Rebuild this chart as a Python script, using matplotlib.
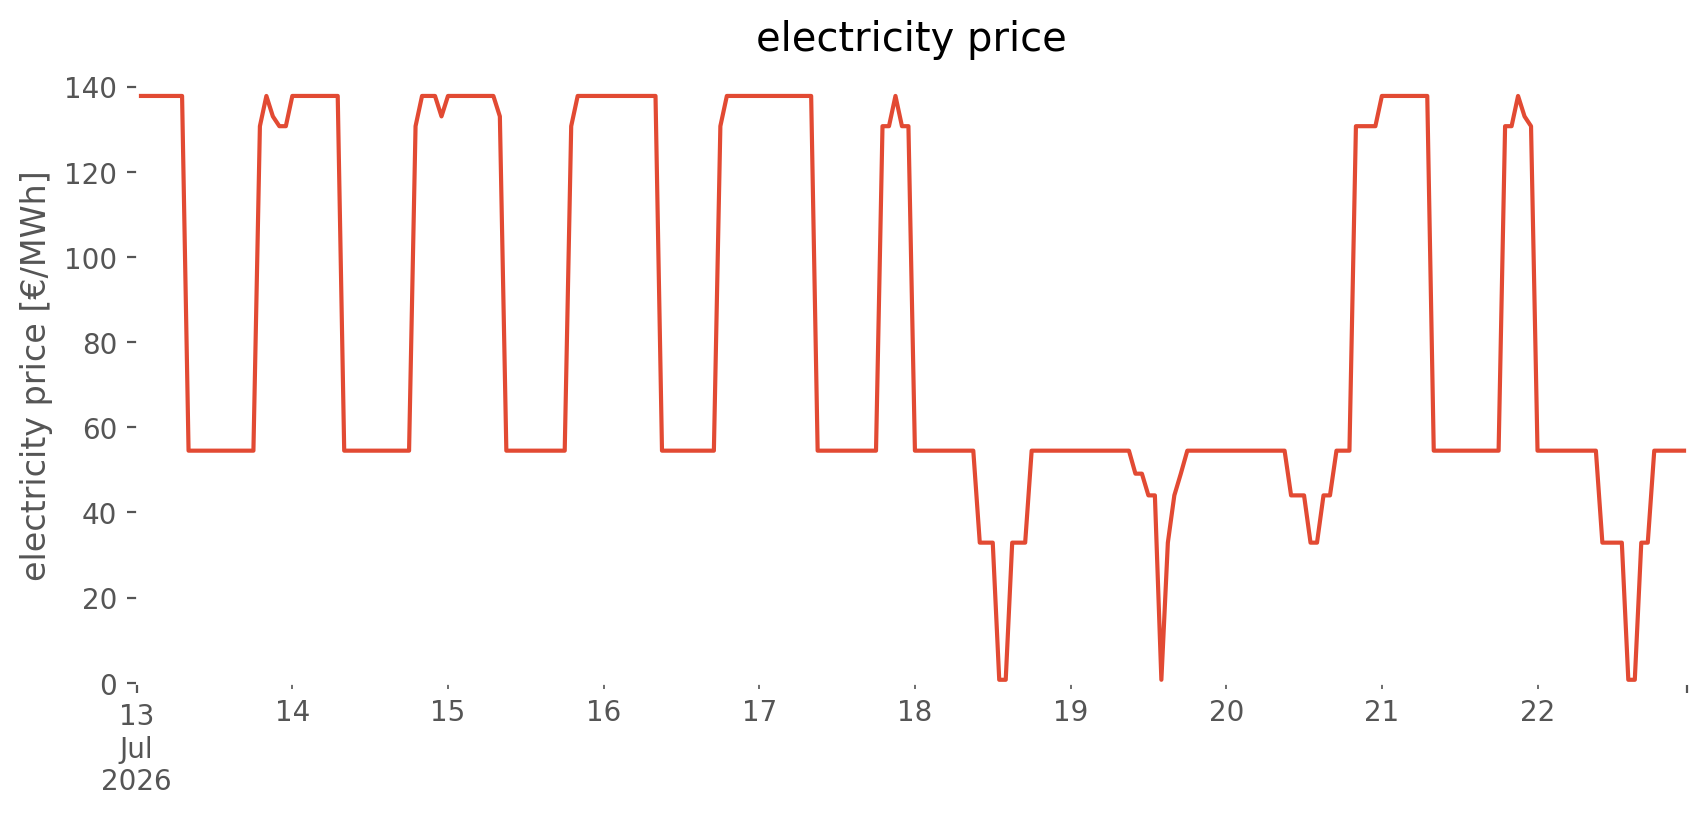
import numpy as np
import pandas as pd
import matplotlib
matplotlib.use("Agg")
import matplotlib.pyplot as plt

# hourly electricity price, one list per day
day_13 = [137.8] * 8 + [54.5] * 11 + [130.7, 137.8, 133.0, 130.7, 130.7]
day_14 = [137.8] * 8 + [54.5] * 11 + [130.7, 137.8, 137.8, 137.8, 133.0]
day_15 = [137.8] * 8 + [133.0] + [54.5] * 10 + [130.7] + [137.8] * 4
day_16 = [137.8] * 9 + [54.5] * 9 + [130.7] + [137.8] * 5
day_17 = [137.8] * 9 + [54.5] * 10 + [130.7, 130.7, 137.8, 130.7, 130.7]
day_18 = [54.5] * 10 + [32.9] * 3 + [0.7] * 2 + [32.9] * 3 + [54.5] * 6
day_19 = [54.5] * 10 + [49.1, 49.1, 44.0, 44.0, 0.7, 32.9, 44.0, 49.1] + [54.5] * 6
day_20 = [54.5] * 10 + [44.0] * 3 + [32.9] * 2 + [44.0] * 2 + [54.5] * 3 + [130.7] * 4
day_21 = [137.8] * 8 + [54.5] * 11 + [130.7, 130.7, 137.8, 133.0, 130.7]
day_22 = [54.5] * 10 + [32.9] * 4 + [0.7] * 2 + [32.9] * 2 + [54.5] * 6

prices = (day_13 + day_14 + day_15 + day_16 + day_17 +
          day_18 + day_19 + day_20 + day_21 + day_22)

index = pd.date_range("2026-07-13", periods=len(prices), freq="h")
price = pd.Series(prices, index=index)

plt.style.use("ggplot")
fig, ax = plt.subplots(figsize=(10, 4))
price.plot(ax=ax)
ax.set_facecolor("white")
ax.grid(False)
ax.set_ylim(bottom=0)
ax.set_title("electricity price")
ax.set_ylabel("electricity price [€/MWh]")
ax.set_xlabel("")

fig.savefig("out.png", dpi=200, bbox_inches="tight", facecolor="white")
